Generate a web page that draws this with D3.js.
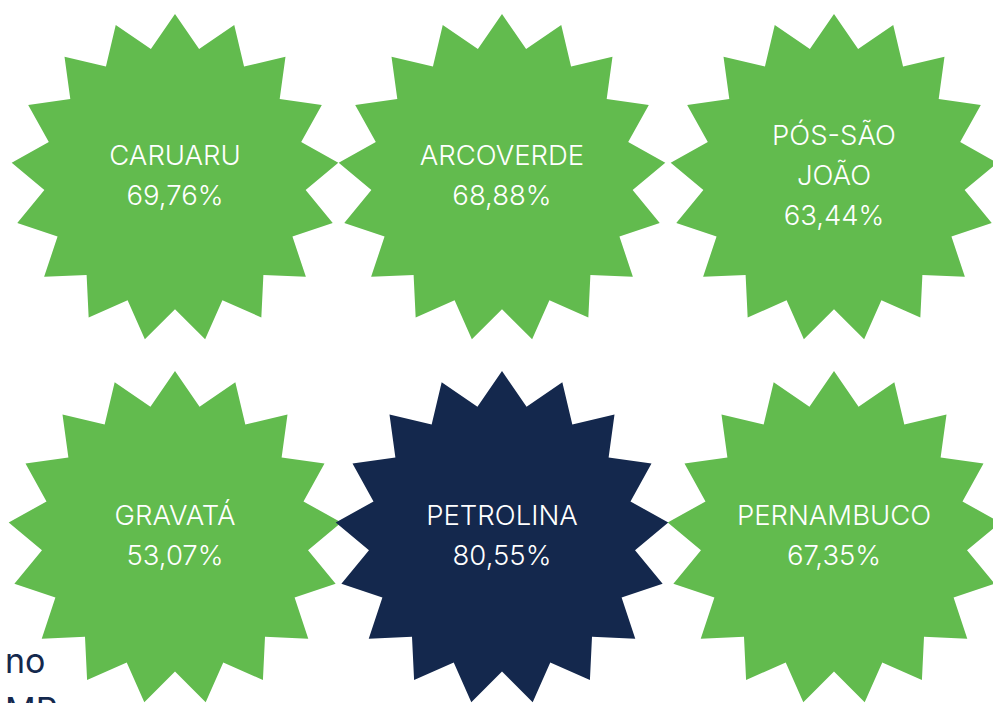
<!DOCTYPE html>
<html>
<head>
<meta charset="utf-8">
<script src="https://cdn.jsdelivr.net/npm/d3@7"></script>
<style>
  html, body { margin: 0; padding: 0; background: #ffffff; }
  svg { display: block; }
</style>
</head>
<body>
<div id="chart"></div>
<script>
// ---- data ----
const labels = [["CARUARU"], ["ARCOVERDE"], ["PÓS-SÃO", "JOÃO"], ["GRAVATÁ"], ["PETROLINA"], ["PERNAMBUCO"]];
const values = [69.76, 68.88, 63.44, 53.07, 80.55, 67.35];
const highlight = ["PETROLINA"];
const backgroundText = ["no", "MP"];

// ---- layout ----
const W = 993, H = 703;
const green = "#62bb4e", navy = "#14284d";
const fontFamily = "Inter, 'Open Sans', sans-serif";

const svg = d3.select("#chart").append("svg").attr("width", W).attr("height", H);

// partially hidden paragraph text behind the badges (cut off by the frame, as in the reference)
svg.append("g").selectAll("text").data(backgroundText).join("text")
  .attr("x", 5)
  .attr("y", (d, i) => 673 + i * 49)
  .attr("fill", navy)
  .attr("font-family", fontFamily)
  .attr("font-size", 34)
  .text(d => d);

const col = d3.scaleOrdinal().domain([0, 1, 2]).range([175, 502, 834]);
const row = d3.scaleOrdinal().domain([0, 1]).range([178, 538]);
const radius = d3.scaleOrdinal().domain([0, 1]).range([164, 167]);

const nPoints = 17, innerRatio = 0.8;
function starPath(R) {
  const pts = d3.range(nPoints * 2).map(i => [i * Math.PI / nPoints, i % 2 === 0 ? R : R * innerRatio]);
  return d3.lineRadial().angle(d => d[0]).radius(d => d[1]).curve(d3.curveLinearClosed)(pts);
}

const fmt = v => d3.format(".2f")(v).replace(".", ",") + "%";

const items = labels.map((l, i) => ({ lines: l.concat([fmt(values[i])]), name: l.join(" "), c: i % 3, r: Math.floor(i / 3) }));

const g = svg.append("g").selectAll("g").data(items).join("g")
  .attr("transform", d => `translate(${col(d.c)},${row(d.r)})`);

g.append("path")
  .attr("d", d => starPath(radius(d.r)))
  .attr("fill", d => highlight.includes(d.name) ? navy : green);

const lineH = 39.7;
g.each(function(d) {
  const n = d.lines.length;
  const t = d3.select(this).append("text")
    .attr("text-anchor", "middle")
    .attr("fill", "#ffffff")
    .attr("font-family", fontFamily)
    .attr("font-weight", 300)
    .attr("font-size", 27.5);
  d.lines.forEach((s, k) => {
    t.append("tspan")
      .attr("x", 0)
      .attr("y", -3 + (k - (n - 1) / 2) * lineH + 9.8)
      .text(s);
  });
});
</script>
</body>
</html>
